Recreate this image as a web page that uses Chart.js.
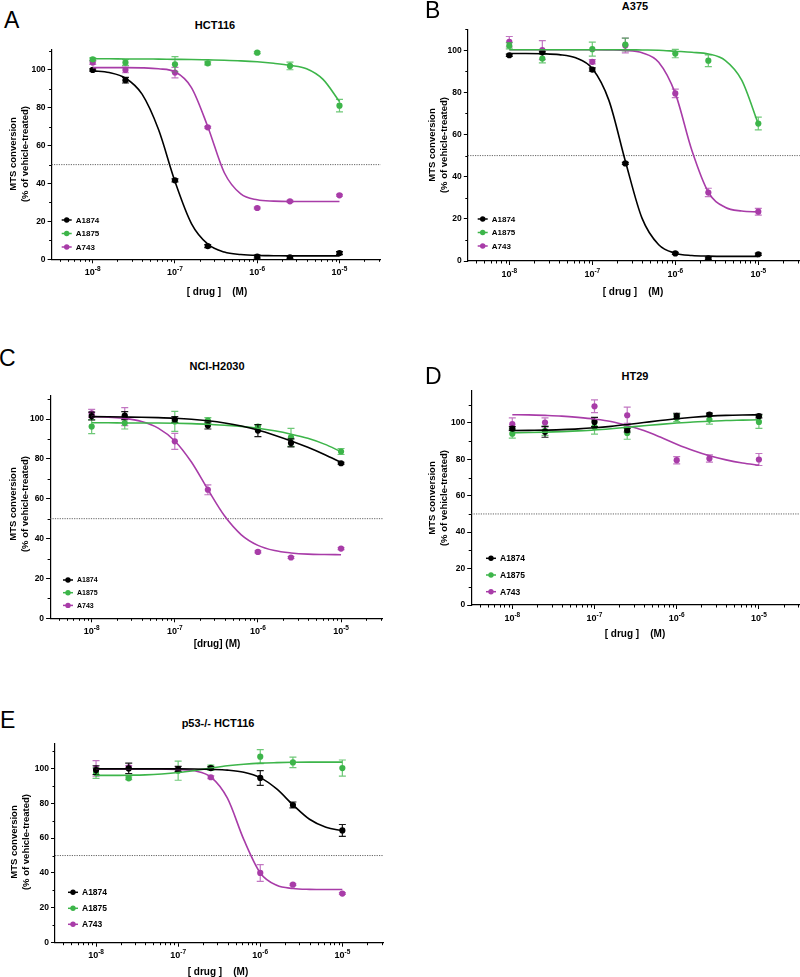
<!DOCTYPE html>
<html>
<head>
<meta charset="utf-8">
<script src="https://cdn.jsdelivr.net/npm/chart.js@4.4.0/dist/chart.umd.min.js"></script>
<style>
  html, body { margin: 0; padding: 0; background: #fff; }
  body { width: 800px; height: 977px; position: relative; overflow: hidden; font-family: "Liberation Sans", Arial, sans-serif; }
  canvas { position: absolute; }
  .txt { position: absolute; white-space: pre; color: #000; }
  .letter { font-size: 23px; line-height: 23px; }
  .title { font-size: 11px; font-weight: bold; transform: translate(-50%, -50%); }
  .xtitle { font-size: 10px; font-weight: bold; transform: translate(-50%, -50%); }
  .ytitle { font-size: 9.5px; font-weight: bold; line-height: 11.5px; text-align: center; transform: translate(-50%, -50%) rotate(-90deg); }
</style>
</head>
<body>
<canvas id="chartA"></canvas>
<canvas id="chartB"></canvas>
<canvas id="chartC"></canvas>
<canvas id="chartD"></canvas>
<canvas id="chartE"></canvas>

<div class="txt letter" style="left:4px;top:9px">A</div>
<div class="txt letter" style="left:425px;top:-1px">B</div>
<div class="txt letter" style="left:-1px;top:347px">C</div>
<div class="txt letter" style="left:425px;top:365px">D</div>
<div class="txt letter" style="left:0px;top:709px">E</div>

<div class="txt title" style="left:215px;top:25px">HCT116</div>
<div class="txt title" style="left:635px;top:6px">A375</div>
<div class="txt title" style="left:217px;top:366px">NCI-H2030</div>
<div class="txt title" style="left:635px;top:376px">HT29</div>
<div class="txt title" style="left:218px;top:723px">p53-/- HCT116</div>

<div class="txt ytitle" style="left:17.5px;top:154px">MTS conversion
(% of vehicle-treated)</div>
<div class="txt ytitle" style="left:437px;top:145px">MTS conversion
(% of vehicle-treated)</div>
<div class="txt ytitle" style="left:17.5px;top:504px">MTS conversion
(% of vehicle-treated)</div>
<div class="txt ytitle" style="left:437px;top:498px">MTS conversion
(% of vehicle-treated)</div>
<div class="txt ytitle" style="left:18.5px;top:842px">MTS conversion
(% of vehicle-treated)</div>

<div class="txt xtitle" style="left:217px;top:291px">[ drug ]    (M)</div>
<div class="txt xtitle" style="left:633px;top:291px">[ drug ]    (M)</div>
<div class="txt xtitle" style="left:217px;top:643px">[drug] (M)</div>
<div class="txt xtitle" style="left:635px;top:633px">[ drug ]    (M)</div>
<div class="txt xtitle" style="left:218px;top:971px">[ drug ]    (M)</div>

<script>
// ==============================
// Data
// ==============================

const series = ["A1874", "A1875", "A743"];
const seriesColors = ["#000000", "#3db54a", "#a83ca8"];
const errColors = ["rgba(0,0,0,0.9)", "rgba(61,181,74,0.75)", "rgba(168,60,168,0.7)"];

// measured doses (M)
const doses = [1e-8, 2.5e-8, 1e-7, 2.5e-7, 1e-6, 2.5e-6, 1e-5];
const fitDoses = [1e-8, 1.585e-8, 2.512e-8, 3.981e-8, 6.310e-8, 1e-7, 1.585e-7, 2.512e-7,
                  3.981e-7, 6.310e-7, 1e-6, 1.585e-6, 2.512e-6, 3.981e-6, 6.310e-6, 1e-5];

const xTickValues = [1e-8, 1e-7, 1e-6, 1e-5];
const xTickExponents = ["-8", "-7", "-6", "-5"];
const yTickStep = 20;
const halfLine = 50;

// A - HCT116
const hct116_A1874 = [100.0, 94.6, 41.7, 7.0, 1.4, 1.0, 3.3];
const hct116_A1875 = [105.6, 103.9, 103.0, 103.5, 109.1, 102.1, 81.1];
const hct116_A743  = [103.9, 100.0, 98.6, 69.7, 27.1, 30.6, 33.8];
const hct116_A1874_sem = [0.6, 1.5, 0.8, 0.8, 0.8, 0.5, 0.8];
const hct116_A1875_sem = [0.8, 1.5, 4.0, 0.8, 0.5, 2.0, 3.3];
const hct116_A743_sem  = [1.0, 1.5, 2.8, 0.5, 0.5, 0.5, 0.5];
const hct116_A1874_fit = [99.5, 98.6, 95.6, 87.2, 68.5, 41.1, 18.9, 8.0, 3.8, 2.5, 2.0, 1.9, 1.8, 1.8, 1.8, 1.8];
const hct116_A1875_fit = [105.9, 105.9, 105.8, 105.8, 105.7, 105.6, 105.5, 105.3, 105.1, 104.8, 104.3, 103.5, 102.4, 100.6, 95.0, 83.3];
const hct116_A743_fit  = [101.2, 101.2, 101.2, 101.1, 100.6, 99.0, 90.7, 69.9, 45.7, 34.5, 31.4, 30.7, 30.5, 30.5, 30.5, 30.5];

// B - A375
const a375_A1874 = [97.6, 99.0, 90.8, 46.3, 3.6, 1.3, 3.2];
const a375_A1875 = [102.1, 96.0, 100.5, 102.7, 98.4, 95.0, 65.2];
const a375_A743  = [104.0, 100.0, 94.5, 102.2, 79.5, 32.5, 23.4];
const a375_A1874_sem = [0.5, 0.5, 0.8, 0.5, 0.5, 0.5, 0.5];
const a375_A1875_sem = [1.5, 2.0, 3.3, 3.0, 2.0, 2.8, 3.0];
const a375_A743_sem  = [2.5, 4.5, 1.0, 3.5, 2.0, 2.0, 1.6];
const a375_A1874_fit = [98.4, 98.4, 98.3, 97.9, 96.4, 91.3, 76.2, 47.1, 20.2, 7.7, 3.7, 2.6, 2.3, 2.2, 2.2, 2.2];
const a375_A1875_fit = [100.2, 100.2, 100.2, 100.2, 100.2, 100.2, 100.2, 100.2, 100.1, 100.0, 99.5, 99.0, 98.2, 95.2, 85.8, 65.0];
const a375_A743_fit  = [100.2, 100.2, 100.2, 100.2, 100.2, 100.2, 100.1, 99.9, 98.8, 94.3, 79.5, 52.4, 32.5, 25.5, 23.7, 23.3];

// C - NCI-H2030
const h2030_A1874 = [101.5, 101.7, 99.7, 96.7, 94.2, 88.0, 77.8];
const h2030_A1875 = [96.2, 98.0, 98.8, 99.2, 96.2, 90.8, 83.7];
const h2030_A743  = [102.8, 101.2, 88.8, 64.5, 33.3, 30.5, 35.0];
const h2030_A1874_sem = [2.0, 2.0, 1.5, 1.7, 3.0, 2.0, 0.5];
const h2030_A1875_sem = [3.5, 3.0, 5.0, 1.5, 1.0, 4.5, 1.5];
const h2030_A743_sem  = [2.0, 4.5, 4.0, 2.5, 0.5, 0.5, 0.5];
const h2030_A1874_fit = [101.2, 101.1, 101.0, 100.9, 100.7, 100.4, 99.9, 99.1, 98.0, 96.5, 94.5, 91.9, 89.0, 85.8, 82.2, 78.2];
const h2030_A1875_fit = [98.1, 98.1, 98.0, 98.0, 98.0, 97.9, 97.7, 97.4, 96.9, 96.3, 95.4, 94.1, 92.4, 90.3, 87.4, 83.6];
const h2030_A743_fit  = [101.3, 100.9, 100.3, 98.7, 95.4, 89.0, 78.4, 64.5, 51.3, 41.9, 36.6, 34.0, 32.8, 32.2, 32.0, 31.9];

// D - HT29
const ht29_A1874 = [96.9, 95.1, 100.5, 96.0, 103.8, 104.6, 103.7];
const ht29_A1875 = [94.1, 95.6, 97.8, 94.5, 102.7, 101.8, 100.5];
const ht29_A743  = [99.3, 100.2, 109.1, 104.2, 79.5, 80.4, 79.9];
const ht29_A1874_sem = [1.0, 3.0, 2.5, 1.0, 1.5, 0.8, 1.0];
const ht29_A1875_sem = [2.5, 2.5, 4.0, 3.5, 2.0, 2.5, 3.5];
const ht29_A743_sem  = [3.5, 2.5, 3.5, 4.5, 2.0, 2.0, 3.3];
const ht29_A1874_fit = [95.8, 95.9, 96.0, 96.3, 96.7, 97.3, 98.1, 99.1, 100.2, 101.3, 102.3, 103.1, 103.7, 104.1, 104.3, 104.4];
const ht29_A1875_fit = [94.6, 94.7, 94.9, 95.2, 95.6, 96.1, 96.8, 97.6, 98.4, 99.2, 99.9, 100.5, 100.9, 101.3, 101.5, 101.7];
const ht29_A743_fit  = [104.5, 104.4, 104.1, 103.7, 103.0, 102.1, 100.8, 98.6, 95.8, 92.2, 88.3, 84.8, 81.9, 79.7, 78.0, 76.8];

// E - p53-/- HCT116
const p53_A1874 = [99.0, 100.0, 99.6, 100.2, 94.5, 79.0, 64.4];
const p53_A1875 = [97.3, 94.3, 98.7, 100.4, 106.7, 103.4, 100.2];
const p53_A743  = [100.0, 100.6, 99.2, 94.9, 40.0, 33.3, 28.2];
const p53_A1874_sem = [2.5, 3.0, 1.5, 0.8, 4.2, 1.7, 3.4];
const p53_A1875_sem = [3.0, 0.8, 5.5, 1.5, 4.0, 3.0, 4.6];
const p53_A743_sem  = [4.5, 1.0, 0.8, 0.8, 4.8, 0.5, 0.5];
const p53_A1874_fit = [99.7, 99.7, 99.7, 99.7, 99.7, 99.7, 99.6, 99.4, 99.0, 97.8, 94.7, 88.2, 79.0, 70.8, 66.2, 64.2];
const p53_A1875_fit = [96.0, 96.0, 96.1, 96.3, 96.8, 97.6, 98.8, 100.2, 101.5, 102.4, 103.0, 103.3, 103.5, 103.6, 103.6, 103.6];
const p53_A743_fit  = [99.7, 99.7, 99.7, 99.7, 99.6, 99.4, 98.6, 95.0, 82.9, 59.1, 40.0, 32.9, 31.1, 30.6, 30.5, 30.5];

// ==============================
// Panel layout (page pixels)
// ==============================

const FONT = '"Liberation Sans", Arial, sans-serif';
const xMin = 3.162e-9;
const xMax = 3.162e-5;

const panels = [
    { canvas: "chartA", area: [51.6, 48.4, 380.6, 259.3], yMax: 111,
      mean: [hct116_A1874, hct116_A1875, hct116_A743],
      sem: [hct116_A1874_sem, hct116_A1875_sem, hct116_A743_sem],
      fit: [hct116_A1874_fit, hct116_A1875_fit, hct116_A743_fit],
      legend: { x: 61.7, y: 220, dy: 13.5, size: 8 } },
    { canvas: "chartB", area: [467.8, 28.9, 799.8, 261], yMax: 110,
      mean: [a375_A1874, a375_A1875, a375_A743],
      sem: [a375_A1874_sem, a375_A1875_sem, a375_A743_sem],
      fit: [a375_A1874_fit, a375_A1875_fit, a375_A743_fit],
      legend: { x: 477.7, y: 219, dy: 13.5, size: 8 } },
    { canvas: "chartC", area: [50.1, 394.3, 382.6, 618.3], yMax: 112,
      mean: [h2030_A1874, h2030_A1875, h2030_A743],
      sem: [h2030_A1874_sem, h2030_A1875_sem, h2030_A743_sem],
      fit: [h2030_A1874_fit, h2030_A1875_fit, h2030_A743_fit],
      legend: { x: 63, y: 580, dy: 12.7, size: 7 } },
    { canvas: "chartD", area: [471.2, 389.9, 800, 605], yMax: 118,
      mean: [ht29_A1874, ht29_A1875, ht29_A743],
      sem: [ht29_A1874_sem, ht29_A1875_sem, ht29_A743_sem],
      fit: [ht29_A1874_fit, ht29_A1875_fit, ht29_A743_fit],
      legend: { x: 486, y: 558.3, dy: 16.7, size: 8.5 } },
    { canvas: "chartE", area: [55, 742.3, 383.4, 942.7], yMax: 114.5,
      mean: [p53_A1874, p53_A1875, p53_A743],
      sem: [p53_A1874_sem, p53_A1875_sem, p53_A743_sem],
      fit: [p53_A1874_fit, p53_A1875_fit, p53_A743_fit],
      legend: { x: 68, y: 892.3, dy: 16, size: 8.5 } }
];

// ==============================
// Extra drawing: 50% line, error bars, minor ticks, x labels, legend
// ==============================

function decorPlugin(p, offX, offY) {
    return {
        id: "decor",
        beforeDatasetsDraw(chart) {
            const { ctx, chartArea, scales } = chart;
            const y = scales.y.getPixelForValue(halfLine);
            ctx.save();
            ctx.strokeStyle = "#555";
            ctx.lineWidth = 0.9;
            ctx.setLineDash([1.2, 1.2]);
            ctx.beginPath();
            ctx.moveTo(chartArea.left, y);
            ctx.lineTo(chartArea.right, y);
            ctx.stroke();
            ctx.restore();
        },
        beforeDatasetDraw(chart, args) {
            const k = args.index - 3;
            if (k < 0) return;
            const { ctx, scales } = chart;
            ctx.save();
            ctx.strokeStyle = errColors[k];
            ctx.lineWidth = 1.2;
            doses.forEach((d, j) => {
                const x = scales.x.getPixelForValue(d);
                const yHi = scales.y.getPixelForValue(p.mean[k][j] + p.sem[k][j]);
                const yLo = scales.y.getPixelForValue(p.mean[k][j] - p.sem[k][j]);
                ctx.beginPath();
                ctx.moveTo(x, yHi); ctx.lineTo(x, yLo);
                ctx.moveTo(x - 3.5, yHi); ctx.lineTo(x + 3.5, yHi);
                ctx.moveTo(x - 3.5, yLo); ctx.lineTo(x + 3.5, yLo);
                ctx.stroke();
            });
            ctx.restore();
        },
        afterDraw(chart) {
            const { ctx, chartArea, scales } = chart;
            ctx.save();
            ctx.strokeStyle = "#000";
            ctx.lineWidth = 1;

            // minor ticks
            ctx.beginPath();
            for (let e = -9; e <= -5; e++) {
                for (let m = 2; m <= 9; m++) {
                    const v = m * Math.pow(10, e);
                    if (v < xMin || v > xMax) continue;
                    const x = Math.round(scales.x.getPixelForValue(v)) + 0.5;
                    ctx.moveTo(x, chartArea.bottom);
                    ctx.lineTo(x, chartArea.bottom + 2.5);
                }
            }
            for (let v = 10; v <= p.yMax; v += yTickStep) {
                const y = Math.round(scales.y.getPixelForValue(v)) + 0.5;
                ctx.moveTo(chartArea.left - 2.5, y);
                ctx.lineTo(chartArea.left, y);
            }
            ctx.stroke();

            // x tick labels 10^n
            ctx.fillStyle = "#000";
            ctx.textBaseline = "alphabetic";
            ctx.textAlign = "left";
            xTickValues.forEach((v, i) => {
                const x = scales.x.getPixelForValue(v);
                ctx.font = "bold 9px " + FONT;
                const w1 = ctx.measureText("10").width;
                ctx.font = "bold 6.5px " + FONT;
                const w2 = ctx.measureText(xTickExponents[i]).width;
                const x0 = x - (w1 + w2) / 2;
                ctx.font = "bold 9px " + FONT;
                ctx.fillText("10", x0, chartArea.bottom + 15.5);
                ctx.font = "bold 6.5px " + FONT;
                ctx.fillText(xTickExponents[i], x0 + w1, chartArea.bottom + 11.5);
            });

            // legend
            const lg = p.legend;
            ctx.textBaseline = "middle";
            ctx.font = "bold " + lg.size + "px " + FONT;
            series.forEach((name, i) => {
                const lx = lg.x - offX;
                const ly = lg.y + i * lg.dy - offY;
                ctx.strokeStyle = seriesColors[i];
                ctx.fillStyle = seriesColors[i];
                ctx.lineWidth = 1.5;
                ctx.beginPath();
                ctx.moveTo(lx, ly); ctx.lineTo(lx + 10, ly);
                ctx.stroke();
                ctx.beginPath();
                ctx.arc(lx + 5, ly, 2.7, 0, Math.PI * 2);
                ctx.fill();
                ctx.fillStyle = "#000";
                ctx.fillText(name, lx + 14, ly + 0.5);
            });
            ctx.restore();
        }
    };
}

// ==============================
// Charts
// ==============================

panels.forEach(p => {

    const [L, T, R, B] = p.area;
    const cl = Math.floor(L) - 46;
    const ct = Math.floor(T) - 6;
    const cw = Math.ceil(R) + 8 - cl;
    const ch = Math.ceil(B) + 30 - ct;

    const cv = document.getElementById(p.canvas);
    cv.width = cw;
    cv.height = ch;
    cv.style.left = cl + "px";
    cv.style.top = ct + "px";
    cv.style.width = cw + "px";
    cv.style.height = ch + "px";

    const datasets = [];

    p.fit.forEach((f, i) => {
        datasets.push({
            label: series[i] + " fit",
            data: fitDoses.map((d, j) => ({ x: d, y: f[j] })),
            showLine: true,
            borderColor: seriesColors[i],
            borderWidth: 1.6,
            pointRadius: 0,
            cubicInterpolationMode: "monotone",
            fill: false
        });
    });

    p.mean.forEach((m, i) => {
        datasets.push({
            label: series[i],
            data: doses.map((d, j) => ({ x: d, y: m[j] })),
            showLine: false,
            pointRadius: 3.1,
            pointHoverRadius: 3.1,
            pointBorderWidth: 0,
            backgroundColor: seriesColors[i],
            borderColor: seriesColors[i]
        });
    });

    new Chart(cv, {
        type: "scatter",
        data: { datasets },
        options: {
            responsive: false,
            animation: false,
            events: [],
            layout: { padding: { top: T - ct, right: cl + cw - R, left: 0, bottom: 0 } },
            plugins: {
                legend: { display: false },
                tooltip: { enabled: false }
            },
            scales: {
                x: {
                    type: "logarithmic",
                    min: xMin,
                    max: xMax,
                    afterBuildTicks: s => { s.ticks = xTickValues.map(v => ({ value: v })); },
                    afterFit: s => { s.height = ct + ch - B; },
                    ticks: { display: false },
                    grid: { drawOnChartArea: false, drawTicks: true, tickLength: 4, tickColor: "#000", tickWidth: 1 },
                    border: { display: true, color: "#000", width: 1.2 }
                },
                y: {
                    min: 0,
                    max: p.yMax,
                    afterFit: s => { s.width = L - cl; },
                    ticks: {
                        stepSize: yTickStep,
                        includeBounds: false,
                        color: "#000",
                        padding: 2,
                        font: { family: FONT, size: 8.5, weight: "bold" }
                    },
                    grid: { drawOnChartArea: false, drawTicks: true, tickLength: 4, tickColor: "#000", tickWidth: 1 },
                    border: { display: true, color: "#000", width: 1.2 }
                }
            }
        },
        plugins: [decorPlugin(p, cl, ct)]
    });

});
</script>
</body>
</html>
